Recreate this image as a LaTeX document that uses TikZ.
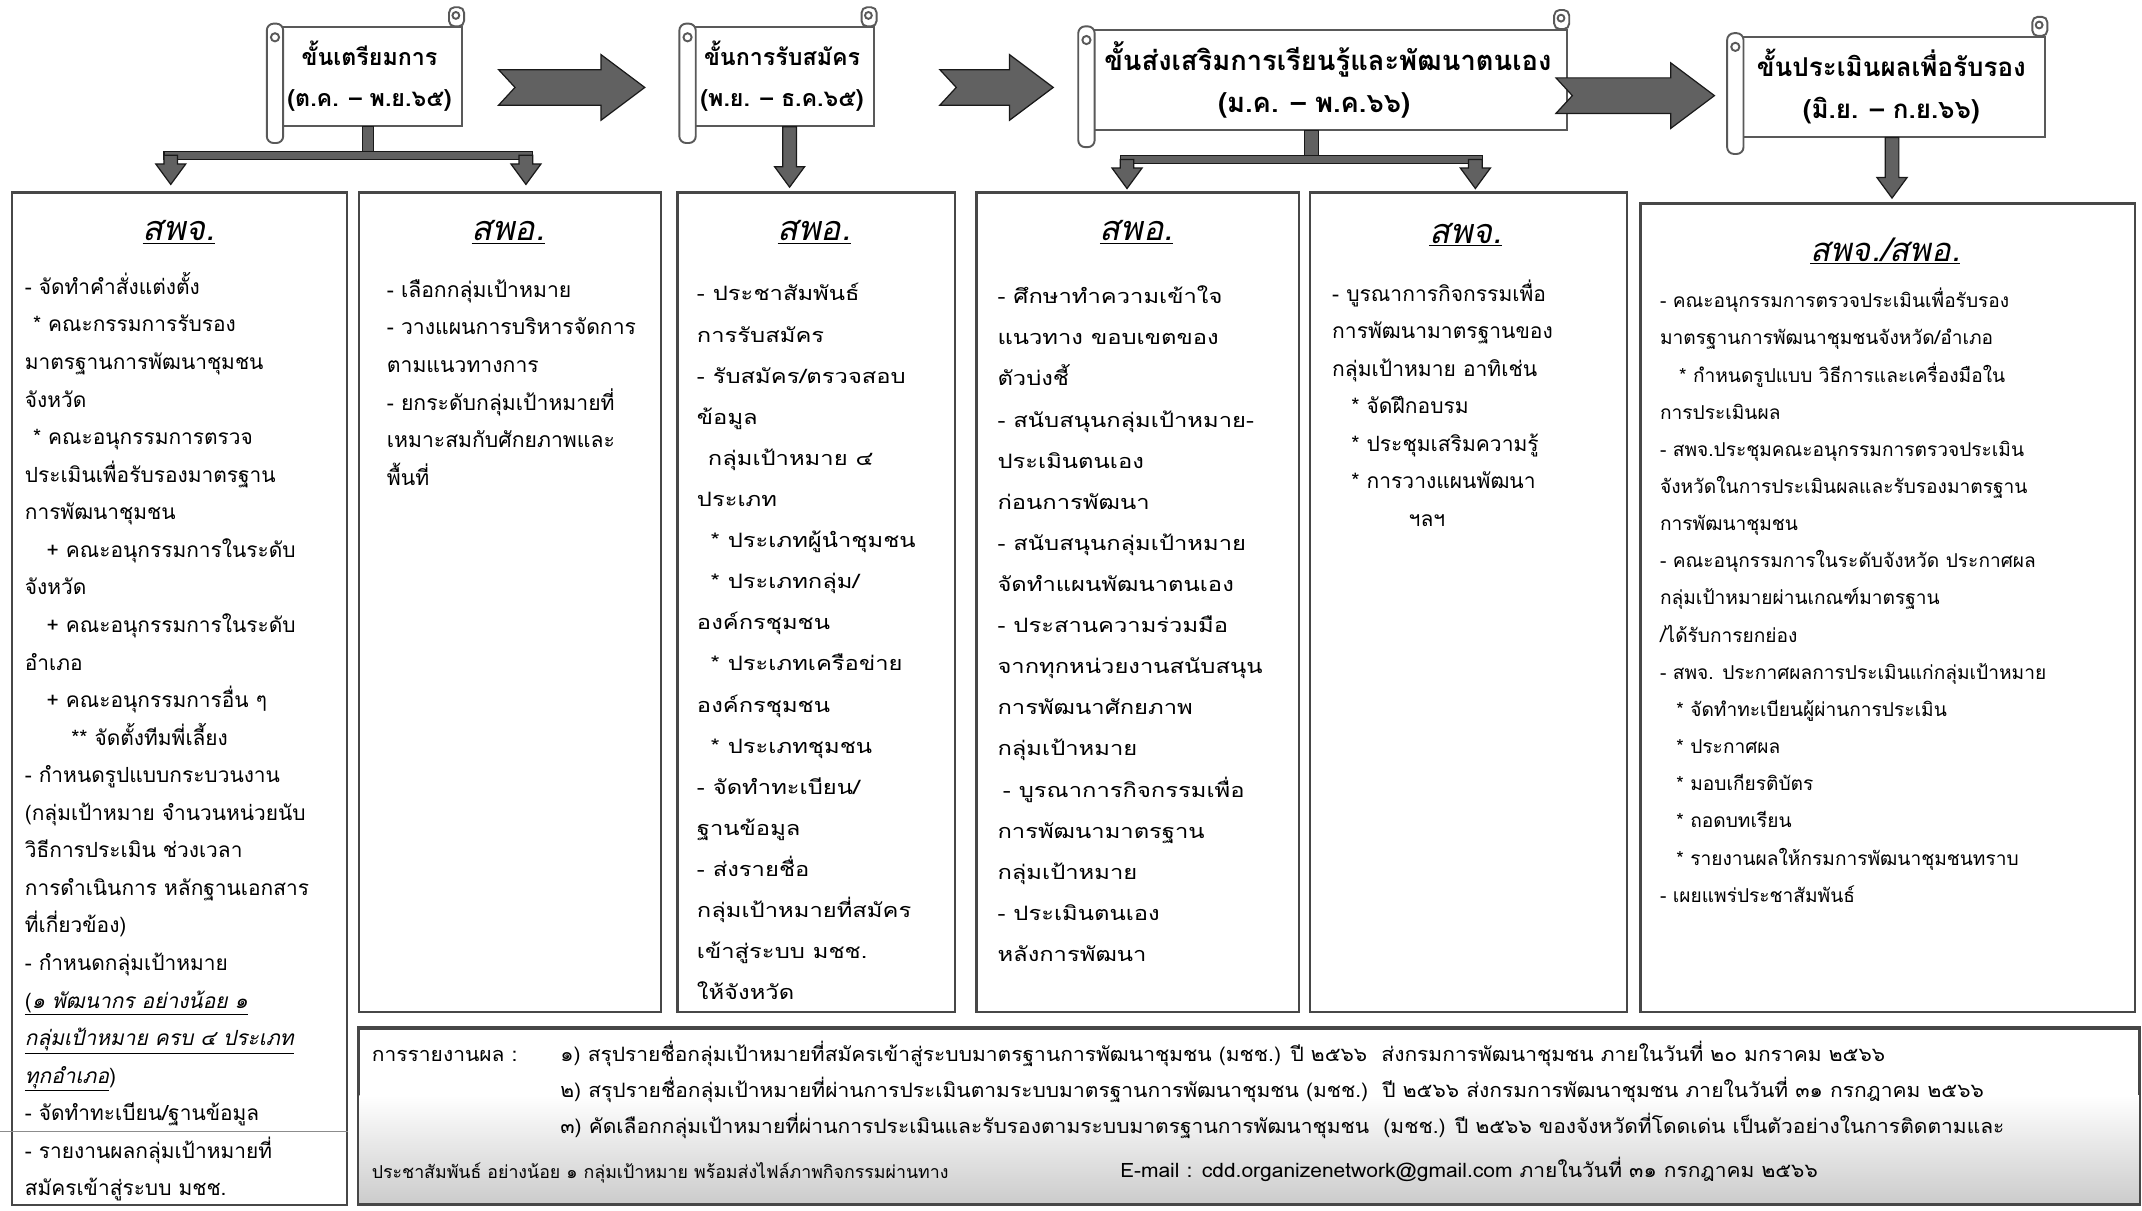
\documentclass[tikz,border=0pt]{standalone}
\usepackage{fontspec}
\newfontfamily\thai[Script=Thai]{Loma}
\newfontfamily\thaiwide[Script=Thai,FakeStretch=1.2]{Loma}
\newfontfamily\thaircp[Script=Thai,FakeStretch=1.06]{Loma}
\usetikzlibrary{calc}
\newcommand{\dnarrow}[2]{%
  \draw[blk] let \p1=#1, \p2=#2 in
    (\x1-5pt,\y1) -- (\x1-5pt,\y2+15pt) -- (\x1-11pt,\y2+15pt) -- (\x1,\y2)
    -- (\x1+11pt,\y2+15pt) -- (\x1+5pt,\y2+15pt) -- (\x1+5pt,\y1) -- cycle;}
\newcommand{\rarrow}[2]{%
  \draw[blk] let \p1=#1, \p2=#2 in
    (\x1,\y1+13pt) -- (\x2-32pt,\y1+13pt) -- (\x2-32pt,\y1+24pt) -- (\x2,\y1)
    -- (\x2-32pt,\y1-24pt) -- (\x2-32pt,\y1-13pt) -- (\x1,\y1-13pt) -- (\x1+12pt,\y1) -- cycle;}
\newcommand{\scrolldeco}[1]{%
  \draw[scrl,rounded corners=4pt] ($(#1.north east)+(-10,0)$) rectangle ($(#1.north east)+(1,-14)$);
  \draw[scrl] ($(#1.north east)+(-5,-8)$) circle[radius=2.5pt];
  \draw[scrl,rounded corners=5pt] ($(#1.north west)+(-7,-2)$) rectangle ($(#1.south west)+(5,12)$);
  \draw[scrl] ($(#1.north west)+(-1,8)$) circle[radius=3pt];}
\begin{document}
\begin{tikzpicture}[x=1pt,y=-1pt,
  blk/.style={fill=black!62,draw=black!90,line width=0.9pt},
  scrl/.style={draw=black!65,line width=1.4pt,fill=white},
  scrollbody/.style={draw=black!65,line width=1.4pt,fill=white,inner sep=0pt,align=center,
     font=\thai\bfseries\fontsize{17}{30}\selectfont},
  panel/.style={draw=black!72,line width=1.7pt,fill=white,anchor=north west,inner sep=0pt},
  head/.style={font=\thai\itshape\fontsize{25}{28}\selectfont,inner sep=0pt},
  txt/.style={anchor=north west,align=left,inner sep=0pt,font=\thai\fontsize{15.3}{27.5}\selectfont},
  wtxt/.style={anchor=north west,align=left,inner sep=0pt,font=\thaiwide\fontsize{14.5}{30.1}\selectfont},
  rtxt/.style={anchor=north west,align=left,inner sep=0pt,font=\thaircp\fontsize{14.5}{26.5}\selectfont}]
\useasboundingbox (0,0) rectangle (1568,886);
\fill[white] (0,0) rectangle (1568,886);

% ---------- scrolls ----------
\node[scrollbody,minimum width=135pt,minimum height=72pt] (s1) at (270.5,56) {ขั้นเตรียมการ\\(ต.ค. – พ.ย.๖๕)};
\scrolldeco{s1}
\node[scrollbody,minimum width=135pt,minimum height=72pt] (s2) at (572.5,56) {ขั้นการรับสมัคร\\(พ.ย. – ธ.ค.๖๕)};
\scrolldeco{s2}
\node[scrollbody,minimum width=350pt,minimum height=73pt,font=\thai\bfseries\fontsize{20}{31}\selectfont] (s3) at (972,58.5) {ขั้นส่งเสริมการเรียนรู้และพัฒนาตนเอง\\(ม.ค. – พ.ค.๖๖)\hspace*{20pt}};
\scrolldeco{s3}
\node[scrollbody,minimum width=225pt,minimum height=73pt,font=\thai\bfseries\fontsize{19}{31}\selectfont] (s4) at (1384.5,63.5) {ขั้นประเมินผลเพื่อรับรอง\\(มิ.ย. – ก.ย.๖๖)};
\scrolldeco{s4}

% ---------- panels ----------
\node[panel,minimum width=245pt,minimum height=741pt] (bA) at (8,140) {};
\node[panel,minimum width=221pt,minimum height=600pt] (bB) at (262,140) {};
\node[panel,minimum width=203pt,minimum height=600pt] (bC) at (495,140) {};
\node[panel,minimum width=236pt,minimum height=600pt] (bD) at (714,140) {};
\node[panel,minimum width=232pt,minimum height=600pt] (bE) at (958,140) {};
\node[panel,minimum width=362pt,minimum height=592pt] (bF) at (1200,148) {};
\node[panel,minimum width=1303pt,minimum height=128pt] (bR) at (262,752) {};
\shade[top color=white,bottom color=black!20] ($(bR.south west)+(1,-80)$) rectangle ($(bR.south east)+(-1,-1)$);
\draw[black!72,line width=1.7pt] (bR.north west) rectangle (bR.south east);
\draw[black!45,line width=0.8pt] (0,828) -- (bA.east |- 0,828);

% ---------- right block arrows ----------
\coordinate (r1a) at (365,64);  \coordinate (r1b) at (472,64);
\coordinate (r2a) at (688,64);  \coordinate (r2b) at (771,64);
\coordinate (r3a) at (1139,70); \coordinate (r3b) at (1255,70);
\rarrow{(r1a)}{(r1b)}
\rarrow{(r2a)}{(r2b)}
\rarrow{(r3a)}{(r3b)}

% ---------- down connectors ----------
\coordinate (j1) at ($(s1.south)+(-2,21)$);
\coordinate (tA) at (125,135); \coordinate (tB) at (385,135);
\draw[blk] ($(s1.south)+(-5,0)$) rectangle ($(j1)+(5,0)$);
\draw[blk] ($(tA |- j1)+(-5,-3)$) rectangle ($(tB |- j1)+(5,3)$);
\dnarrow{(tA |- j1)}{(tA)}
\dnarrow{(tB |- j1)}{(tB)}
\coordinate (tC) at (578,137);
\dnarrow{($(s2.south)+(5.5,0)$)}{(tC)}
\coordinate (j3) at ($(s3.south)+(-12,21)$);
\coordinate (tD) at (825,138); \coordinate (tE) at (1080,138);
\draw[blk] ($(s3.south)+(-17,0)$) rectangle ($(j3)+(5,0)$);
\draw[blk] ($(tD |- j3)+(-5,-3)$) rectangle ($(tE |- j3)+(5,3)$);
\dnarrow{(tD |- j3)}{(tD)}
\dnarrow{(tE |- j3)}{(tE)}
\coordinate (tF) at (1385,145);
\dnarrow{($(s4.south)+(0.5,0)$)}{(tF)}

% ---------- headings ----------
\node[head] (hA) at (131,170) {\underline{สพจ.}};
\node[head] (hB) at (372,170) {\underline{สพอ.}};
\node[head] (hC) at (596,170) {\underline{สพอ.}};
\node[head] (hD) at (832,170) {\underline{สพอ.}};
\node[head] (hE) at (1073,172) {\underline{สพจ.}};
\node[head,font=\thai\itshape\fontsize{24}{28}\selectfont] (hF) at (1380,184) {\underline{สพจ./สพอ.}};

% ---------- panel texts ----------
\node[txt] (tx1) at (18,196) {\strut- จัดทำคำสั่งแต่งตั้ง\\
\hspace*{6pt}* คณะกรรมการรับรอง\\
มาตรฐานการพัฒนาชุมชน\\
จังหวัด\\
\hspace*{6pt}* คณะอนุกรรมการตรวจ\\
ประเมินเพื่อรับรองมาตรฐาน\\
การพัฒนาชุมชน\\
\hspace*{16pt}+ คณะอนุกรรมการในระดับ\\
จังหวัด\\
\hspace*{16pt}+ คณะอนุกรรมการในระดับ\\
อำเภอ\\
\hspace*{16pt}+ คณะอนุกรรมการอื่น ๆ\\
\hspace*{34pt}** จัดตั้งทีมพี่เลี้ยง\\
- กำหนดรูปแบบกระบวนงาน\\
(กลุ่มเป้าหมาย จำนวนหน่วยนับ\\
วิธีการประเมิน ช่วงเวลา\\
การดำเนินการ หลักฐานเอกสาร\\
ที่เกี่ยวข้อง)\\
- กำหนดกลุ่มเป้าหมาย\\
\underline{(\textit{๑ พัฒนากร อย่างน้อย ๑}}\\
\underline{\textit{กลุ่มเป้าหมาย ครบ ๔ ประเภท}}\\
\underline{\textit{ทุกอำเภอ}})\\
- จัดทำทะเบียน/ฐานข้อมูล\\
- รายงานผลกลุ่มเป้าหมายที่\\
สมัครเข้าสู่ระบบ มชช.};

\node[txt,font=\thai\fontsize{15.5}{27.6}\selectfont] (tx2) at (283,198) {\strut- เลือกกลุ่มเป้าหมาย\\
- วางแผนการบริหารจัดการ\\
ตามแนวทางการ\\
- ยกระดับกลุ่มเป้าหมายที่\\
เหมาะสมกับศักยภาพและ\\
พื้นที่};

\node[wtxt] (tx3) at (510,199) {\strut- ประชาสัมพันธ์\\
การรับสมัคร\\
- รับสมัคร/ตรวจสอบ\\
ข้อมูล\\
\hspace*{8pt}กลุ่มเป้าหมาย ๔\\
ประเภท\\
\hspace*{10pt}* ประเภทผู้นำชุมชน\\
\hspace*{10pt}* ประเภทกลุ่ม/\\
องค์กรชุมชน\\
\hspace*{10pt}* ประเภทเครือข่าย\\
องค์กรชุมชน\\
\hspace*{10pt}* ประเภทชุมชน\\
- จัดทำทะเบียน/\\
ฐานข้อมูล\\
- ส่งรายชื่อ\\
กลุ่มเป้าหมายที่สมัคร\\
เข้าสู่ระบบ มชช.\\
ให้จังหวัด};

\node[wtxt] (tx4) at (730,201) {\strut- ศึกษาทำความเข้าใจ\\
แนวทาง ขอบเขตของ\\
ตัวบ่งชี้\\
- สนับสนุนกลุ่มเป้าหมาย-\\
ประเมินตนเอง\\
ก่อนการพัฒนา\\
- สนับสนุนกลุ่มเป้าหมาย\\
จัดทำแผนพัฒนาตนเอง\\
- ประสานความร่วมมือ\\
จากทุกหน่วยงานสนับสนุน\\
การพัฒนาศักยภาพ\\
กลุ่มเป้าหมาย\\
\hspace*{4pt}- บูรณาการกิจกรรมเพื่อ\\
การพัฒนามาตรฐาน\\
กลุ่มเป้าหมาย\\
- ประเมินตนเอง\\
หลังการพัฒนา};

\node[txt,font=\thai\fontsize{15.4}{27.5}\selectfont] (tx5) at (975,201) {\strut- บูรณาการกิจกรรมเพื่อ\\
การพัฒนามาตรฐานของ\\
กลุ่มเป้าหมาย อาทิเช่น\\
\hspace*{14pt}* จัดฝึกอบรม\\
\hspace*{14pt}* ประชุมเสริมความรู้\\
\hspace*{14pt}* การวางแผนพัฒนา\\
\hspace*{56pt}ฯลฯ};

\node[txt,font=\thai\fontsize{14}{27.2}\selectfont] (tx6) at (1215,206) {\strut- คณะอนุกรรมการตรวจประเมินเพื่อรับรอง\\
มาตรฐานการพัฒนาชุมชนจังหวัด/อำเภอ\\
\hspace*{14pt}* กำหนดรูปแบบ วิธีการและเครื่องมือใน\\
การประเมินผล\\
- สพจ.ประชุมคณะอนุกรรมการตรวจประเมิน\\
จังหวัดในการประเมินผลและรับรองมาตรฐาน\\
การพัฒนาชุมชน\\
- คณะอนุกรรมการในระดับจังหวัด ประกาศผล\\
กลุ่มเป้าหมายผ่านเกณฑ์มาตรฐาน\\
/ได้รับการยกย่อง\\
- สพจ. ประกาศผลการประเมินแก่กลุ่มเป้าหมาย\\
\hspace*{12pt}* จัดทำทะเบียนผู้ผ่านการประเมิน\\
\hspace*{12pt}* ประกาศผล\\
\hspace*{12pt}* มอบเกียรติบัตร\\
\hspace*{12pt}* ถอดบทเรียน\\
\hspace*{12pt}* รายงานผลให้กรมการพัฒนาชุมชนทราบ\\
- เผยแพร่ประชาสัมพันธ์};

% ---------- report box ----------
\node[rtxt] (rl) at (272,758) {\strut การรายงานผล :};
\node[rtxt] (ri) at (410,758) {\strut ๑) สรุปรายชื่อกลุ่มเป้าหมายที่สมัครเข้าสู่ระบบมาตรฐานการพัฒนาชุมชน (มชช.) ปี ๒๕๖๖\ \ ส่งกรมการพัฒนาชุมชน ภายในวันที่ ๒๐ มกราคม ๒๕๖๖\\
๒) สรุปรายชื่อกลุ่มเป้าหมายที่ผ่านการประเมินตามระบบมาตรฐานการพัฒนาชุมชน (มชช.)\ \ ปี ๒๕๖๖ ส่งกรมการพัฒนาชุมชน ภายในวันที่ ๓๑ กรกฎาคม ๒๕๖๖\\
๓) คัดเลือกกลุ่มเป้าหมายที่ผ่านการประเมินและรับรองตามระบบมาตรฐานการพัฒนาชุมชน\ \ (มชช.) ปี ๒๕๖๖ ของจังหวัดที่โดดเด่น เป็นตัวอย่างในการติดตามและ};
\node[rtxt,font=\thai\fontsize{13}{26}\selectfont] (rp) at (272,844) {\strut ประชาสัมพันธ์ อย่างน้อย ๑ กลุ่มเป้าหมาย พร้อมส่งไฟล์ภาพกิจกรรมผ่านทาง};
\node[rtxt] (re) at (820,843) {\strut E-mail : cdd.organizenetwork@gmail.com ภายในวันที่ ๓๑ กรกฎาคม ๒๕๖๖};
\end{tikzpicture}
\end{document}
